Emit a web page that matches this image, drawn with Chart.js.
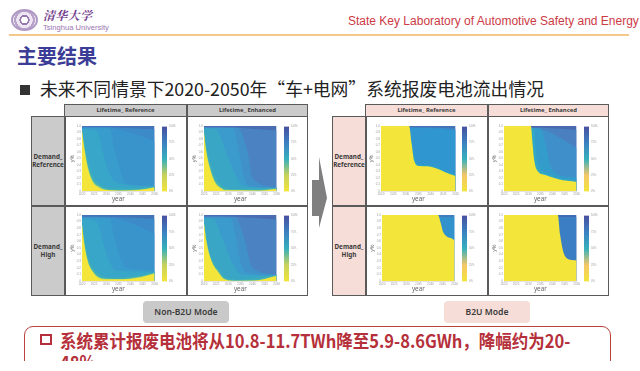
<!DOCTYPE html>
<html><head><meta charset="utf-8">
<script src="https://cdn.jsdelivr.net/npm/chart.js@4"></script>
<style>
html,body{margin:0;padding:0;background:#fff;overflow:hidden}
#s{position:relative;width:640px;height:371px;overflow:hidden;background:#fff;filter:blur(.35px);font-family:"Noto Sans","Noto Sans CJK SC",sans-serif}
#s>*{position:absolute;box-sizing:border-box}
.c{display:flex;align-items:center;justify-content:center;text-align:center;font-weight:700;color:#3a3a3a;line-height:1.2}
canvas{position:absolute;filter:blur(.45px)}
</style></head><body><div id="s">
<div style="left:11px;top:9px;width:27px;height:22px;border-radius:50%;border:2px solid #b09ac4;background:radial-gradient(circle,#fff 0 22%,#9678b0 24% 34%,#efe6f3 36% 55%,#b8a2ca 57% 70%,#f3edf6 72%)"></div>
<div style="left:43px;top:7px;font:700 12px/16px 'Noto Serif CJK SC','Noto Sans CJK SC';color:#74408f;letter-spacing:.3px;white-space:nowrap;font-style:italic">清华大学</div>
<div style="left:43px;top:23px;font:7.6px/9px 'Liberation Sans';color:#9a74b0;white-space:nowrap">Tsinghua University</div>
<div style="left:348px;top:14px;font:12px/15px 'Liberation Sans';color:#cc3a45;white-space:nowrap">State Key Laboratory of Automotive Safety and Energy</div>
<div style="left:9px;top:34px;width:620px;height:2px;background:#f4c88a"></div>
<div style="left:17px;top:42px;font:700 20px/28px 'Noto Sans CJK SC';color:#3b3d96;white-space:nowrap">主要结果</div>
<div style="left:20px;top:85px;width:10px;height:10px;background:#333"></div>
<div style="left:40px;top:75px;font:400 17.8px/26px 'Noto Sans CJK SC';color:#222;white-space:nowrap">未来不同情景下2020-2050年“车+电网”系统报废电池流出情况</div>

<!-- left table -->
<div style="left:64px;top:104px;width:244px;height:13px;background:#cbcbcb"></div>
<div style="left:31px;top:116px;width:34px;height:180px;background:#cbcbcb"></div>
<div style="left:64px;top:104px;width:244px;height:192px;border:1.5px solid #5a5a5a"></div>
<div style="left:31px;top:116px;width:277px;height:180px;border:1.5px solid #5a5a5a"></div>
<div style="left:31px;top:205px;width:277px;height:1.5px;background:#5a5a5a"></div>
<div style="left:186px;top:104px;width:1.5px;height:192px;background:#5a5a5a"></div>
<div style="left:64px;top:116px;width:1.5px;height:180px;background:#5a5a5a"></div>
<div class="c" style="left:65px;top:104px;width:121px;height:13px;font-size:5.9px">Lifetime_ Reference</div>
<div class="c" style="left:187px;top:104px;width:121px;height:13px;font-size:5.9px">Lifetime_ Enhanced</div>
<div class="c" style="left:31px;top:116px;width:34px;height:90px;font-size:6.3px">Demand_<br>Reference</div>
<div class="c" style="left:31px;top:206px;width:34px;height:90px;font-size:6.3px">Demand_<br>High</div>

<!-- right table -->
<div style="left:365px;top:104px;width:244px;height:13px;background:#f6ddd7"></div>
<div style="left:332px;top:116px;width:34px;height:180px;background:#f6ddd7"></div>
<div style="left:365px;top:104px;width:244px;height:192px;border:1.5px solid #5a5a5a"></div>
<div style="left:332px;top:116px;width:277px;height:180px;border:1.5px solid #5a5a5a"></div>
<div style="left:332px;top:205px;width:277px;height:1.5px;background:#5a5a5a"></div>
<div style="left:487px;top:104px;width:1.5px;height:192px;background:#5a5a5a"></div>
<div style="left:365px;top:116px;width:1.5px;height:180px;background:#5a5a5a"></div>
<div class="c" style="left:366px;top:104px;width:121px;height:13px;font-size:5.9px">Lifetime_ Reference</div>
<div class="c" style="left:488px;top:104px;width:121px;height:13px;font-size:5.9px">Lifetime_ Enhanced</div>
<div class="c" style="left:332px;top:116px;width:34px;height:90px;font-size:6.3px">Demand_<br>Reference</div>
<div class="c" style="left:332px;top:206px;width:34px;height:90px;font-size:6.3px">Demand_<br>High</div>

<div style="left:0;top:0;width:640px;height:371px;background:#7f7f7f;clip-path:polygon(312px 180px,319px 180px,319px 157px,327px 198px,319px 228px,319px 216px,312px 216px)"></div>

<div class="c" style="left:143px;top:301px;width:86px;height:22px;background:#c9c9c9;border-radius:4px;font-size:8.6px;font-weight:600">Non-B2U Mode</div>
<div class="c" style="left:444px;top:301px;width:86px;height:22px;background:#f6ddd7;border-radius:4px;font-size:8.6px;font-weight:600">B2U Mode</div>

<div style="left:24px;top:326px;width:587px;height:60px;border:1.5px solid #b9443f;border-radius:9px"></div>
<div style="left:40px;top:334px;width:12px;height:11px;border:2.2px solid #b5303a"></div>
<div style="left:60px;top:327px;font:700 16.5px/26px 'Noto Sans CJK SC';color:#b5303a;white-space:nowrap;transform:scaleY(1.1);transform-origin:0 50%">系统累计报废电池将从10.8-11.7TWh降至5.9-8.6GWh，降幅约为20-</div>
<div style="left:60px;top:348px;font:700 16.5px/26px 'Noto Sans CJK SC';color:#b5303a;white-space:nowrap;transform:scaleY(1.1);transform-origin:0 50%">48%</div>
<div style="left:0;top:361px;width:640px;height:10px;background:#fff"></div>
</div>
<script>
const yearTicks = [2020, 2025, 2030, 2035, 2040, 2045, 2050];
const percentTicks = [0, 25, 50, 75, 100];
const refRefContours = [
 [[2020,1],[2050,1]],
 [[2020,.985],[2030,.985],[2036,.975],[2050,.95]],
 [[2020,.97],[2031,.97],[2037,.93],[2044,.85],[2050,.76]],
 [[2020,.96],[2031.5,.96],[2033,.7],[2035.5,.35],[2038,.12],[2050,.08]],
 [[2020,.95],[2026,.93],[2028.5,.6],[2031,.3],[2034,.13],[2050,.07]],
 [[2020,.94],[2021.2,.7],[2022.8,.42],[2025,.2],[2028,.09],[2032,.04],[2043,.04],[2050,.075]],
 [[2020,.93],[2021.1,.65],[2022.5,.37],[2024.5,.16],[2027.2,.07],[2030,.025],[2037,.012],[2043.6,.022],[2050,.062]],
 [[2020,.92],[2021,.63],[2022.4,.35],[2024.4,.14],[2027,.055],[2030,.015],[2037,.005],[2043.6,.015],[2050,.055]]
];
const refEnhContours = [
 [[2020,1],[2050,1]],
 [[2020,.985],[2028,.985],[2036,.97],[2050,.93]],
 [[2020,.975],[2034,.97],[2038,.6],[2040,.2],[2050,.06]],
 [[2020,.97],[2032,.965],[2034,.7],[2036,.3],[2038,.1],[2050,.05]],
 [[2020,.96],[2025,.95],[2029,.6],[2033,.25],[2036,.08],[2050,.04]],
 [[2020,.93],[2021.2,.66],[2022.8,.4],[2025,.2],[2027.5,.08],[2032,.03],[2050,.05]],
 [[2020,.9],[2020.9,.64],[2022.5,.36],[2024.5,.155],[2027.2,.05],[2029.2,.018],[2043,.012],[2050,.038]],
 [[2020,.89],[2020.8,.63],[2022.4,.35],[2024.4,.14],[2027,.04],[2029,.01],[2043,.005],[2050,.03]]
];
const highRefContours = [
 [[2020,1],[2050,1]],
 [[2020,.975],[2030,.975],[2036,.965],[2050,.94]],
 [[2020,.965],[2031,.96],[2037,.92],[2044,.82],[2050,.72]],
 [[2020,.955],[2031.5,.95],[2033,.7],[2035.5,.38],[2038,.2],[2050,.16]],
 [[2020,.94],[2026,.9],[2028.5,.6],[2031,.32],[2034,.16],[2050,.14]],
 [[2020,.87],[2021.2,.58],[2022.8,.34],[2025,.18],[2028,.08],[2032,.05],[2043,.08],[2050,.135]],
 [[2020,.855],[2021.1,.55],[2022.5,.3],[2024.5,.15],[2027.2,.055],[2030,.035],[2037,.032],[2042.5,.055],[2050,.123]],
 [[2020,.85],[2021,.54],[2022.4,.29],[2024.4,.14],[2027,.045],[2030,.025],[2037,.025],[2042.5,.045],[2050,.115]]
];
const highEnhContours = [
 [[2020,1],[2050,1]],
 [[2020,.98],[2028,.98],[2036,.965],[2050,.93]],
 [[2020,.97],[2033,.965],[2037,.6],[2040,.2],[2050,.1]],
 [[2020,.96],[2031,.955],[2033,.7],[2035,.3],[2038,.12],[2050,.09]],
 [[2020,.95],[2024,.94],[2028,.6],[2032,.25],[2036,.09],[2050,.085]],
 [[2020,.9],[2021.2,.6],[2023.2,.35],[2026,.17],[2029,.05],[2035,.02],[2050,.09]],
 [[2020,.88],[2021.1,.6],[2023,.32],[2025.8,.15],[2028.5,.033],[2033,.008],[2041,.01],[2050,.082]],
 [[2020,.87],[2021,.59],[2023,.31],[2025.7,.14],[2028.4,.025],[2033,0],[2041,.005],[2050,.075]]
];
const b2uRefRefContours = [
 [[2020,1],[2050,1]],
 [[2020,.985],[2036,.98],[2050,.96]],
 [[2020,.97],[2040,.965],[2050,.93]],
 [[2031.4,1],[2032.4,.73],[2033.6,.5],[2035.6,.405],[2038.5,.4],[2042.4,.365],[2046.3,.3],[2050,.25]],
 [[2020,1],[2031.3,1],[2032.3,.73],[2033.3,.47],[2035.3,.385],[2038.5,.38],[2042.4,.345],[2046.3,.28],[2050,.23]]
];
const b2uRefEnhContours = [
 [[2020,1],[2050,1]],
 [[2020,.985],[2036,.975],[2050,.94]],
 [[2020,.975],[2037,.93],[2044,.8],[2050,.66]],
 [[2020,.97],[2035,.96],[2037,.75],[2039,.42],[2041,.28],[2050,.2]],
 [[2020,.96],[2032.5,.96],[2033.2,.6],[2034.5,.36],[2037.1,.28],[2042.5,.205],[2050,.16]],
 [[2020,1],[2031.1,1],[2031.8,.725],[2032.5,.47],[2033.8,.31],[2037.1,.245],[2042.5,.18],[2050,.14]]
];
const b2uHighRefContours = [
 [[2020,1],[2050,1]],
 [[2020,.97],[2050,.97]],
 [[2020,1],[2043.1,1],[2044.3,.87],[2045.2,.745],[2046.9,.67],[2048.9,.645],[2050,.61]]
];
const b2uHighEnhContours = [
 [[2020,1],[2050,1]],
 [[2020,.97],[2050,.97]],
 [[2020,1],[2042.2,1],[2043.2,.695],[2044.5,.44],[2045.8,.35],[2047.9,.32],[2050,.315]]
];
const Y='#f3e53a';
const coolBands = ['#4474b8','#3d8ac8','#3a94cc','#389dcc','#38a6c8','#3eafb8','#8ccb88',Y];
const enhBands  = ['#4a6cb0','#4a82c2','#4090ca','#3b9bcc','#39a6c6','#3eafb8','#8ccb88',Y];
const b2uRefRefBands = ['#4574b6','#3c88c8','#3096d0','#2ca4c8',Y];
const b2uRefEnhBands = ['#4a6ab0','#4a80c0','#3f90ca','#349ccb','#30a8c6',Y];
const b2uHighRefBands = ['#3f7cbe','#3192cc',Y];
const b2uHighEnhBands = ['#416cb4','#3b7ec4',Y];
const barStops = ['#f3e53a','#c8d25c','#34b0bc','#3c80c2','#47509e'];
const barStopsB2U = ['#f3e53a','#f5c668','#34b0bc','#3c80c2','#47509e'];

const panels = [
 [refRefContours,coolBands,82.3,126,75.4,65,162.3,4.8,barStops],
 [refEnhContours,enhBands,204,126,75.3,65,284,4.5,barStops],
 [highRefContours,coolBands,82.3,215,75.4,66,162.3,4.8,barStops],
 [highEnhContours,enhBands,204,215,75.3,66,284,4.5,barStops],
 [b2uRefRefContours,b2uRefRefBands,381,126,76.7,65,462.3,4.5,barStopsB2U],
 [b2uRefEnhContours,b2uRefEnhBands,504,126,74.7,65,584,4.5,barStopsB2U],
 [b2uHighRefContours,b2uHighRefBands,382.3,215,75.4,66,462.3,4.8,barStopsB2U],
 [b2uHighEnhContours,b2uHighEnhBands,504,215,74.7,66,584,4.5,barStopsB2U]
];
const host=document.getElementById('s');
function mk(l,t,w,h){const c=document.createElement('canvas');c.width=Math.round(w);c.height=Math.round(h);c.style.left=l+'px';c.style.top=t+'px';c.style.width=Math.round(w)+'px';c.style.height=Math.round(h)+'px';c.style.zIndex=5;host.appendChild(c);return c;}
const tf={size:3,family:'Liberation Sans'};
panels.forEach(([cont,cols,px,py,pw,ph,bx,bw,stops])=>{
 const ml=13,mb=12,mt=2,mr=1;
 const cv=mk(px-ml,py-mt,pw+ml+mr,ph+mt+mb);
 new Chart(cv,{type:'scatter',data:{datasets:cont.map((pts,i)=>({data:pts.map(p=>({x:p[0],y:p[1]})),showLine:true,fill:'origin',backgroundColor:cols[i],borderWidth:0,pointRadius:0,cubicInterpolationMode:'monotone'})).reverse()},
 options:{responsive:false,animation:false,plugins:{legend:{display:false},tooltip:{enabled:false}},
  layout:{padding:{top:mt,right:mr,left:0,bottom:0}},
  scales:{
   x:{type:'linear',min:2020,max:2050,afterBuildTicks:s=>{s.ticks=yearTicks.map(v=>({value:v}))},afterFit:s=>{s.height=mb},grid:{display:false,tickLength:1,tickColor:'#999'},border:{color:'#bbb',width:.4},
      ticks:{autoSkip:false,maxRotation:0,font:tf,color:'#999',padding:0,callback:v=>String(v)},title:{display:true,text:'year',font:{size:6.3,family:'Noto Sans'},color:'#666',padding:0}},
   y:{min:0,max:1,ticks:{stepSize:.1,autoSkip:false,font:tf,color:'#999',padding:0},afterFit:s=>{s.width=ml},grid:{display:false,tickLength:1,tickColor:'#999'},border:{color:'#bbb',width:.4},
      title:{display:true,text:'y%',font:{size:5.5,family:'Noto Sans'},color:'#666',padding:0}}
  }}});
 const bc=mk(bx,py-mt,bw+9,ph+mt+3);
 new Chart(bc,{type:'bar',data:{labels:[''],datasets:[{data:[[percentTicks[0],percentTicks[4]]],barPercentage:1,categoryPercentage:1,borderWidth:0,
   backgroundColor:c=>{const a=c.chart.chartArea;if(!a)return stops[2];const g=c.chart.ctx.createLinearGradient(0,a.bottom,0,a.top);stops.forEach((s,i)=>g.addColorStop(percentTicks[i]/100,s));return g;}}]},
  options:{responsive:false,animation:false,plugins:{legend:{display:false},tooltip:{enabled:false}},layout:{padding:{top:mt,right:0,left:0,bottom:0}},
  scales:{x:{display:false},y:{position:'right',min:0,max:100,afterBuildTicks:s=>{s.ticks=percentTicks.map(v=>({value:v}))},afterFit:s=>{s.width=9},grid:{display:false,tickLength:1},border:{display:false},
   ticks:{font:{size:2.6,family:'Liberation Sans'},color:'#999',padding:1,callback:v=>v+'%'}}}}});
});
</script></body></html>
